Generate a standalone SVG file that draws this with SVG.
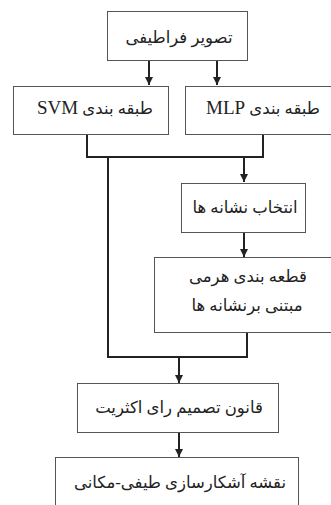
<svg xmlns="http://www.w3.org/2000/svg" width="331" height="505" viewBox="0 0 331 505">
<style>
.box{fill:#fff;stroke:#555;stroke-width:1}
.t{font-family:"Liberation Serif","DejaVu Sans",serif;font-size:16.5px;fill:#222;text-anchor:middle;direction:rtl}
.l{font-size:19px}
.c{fill:none;stroke:#222;stroke-width:2}
</style>
<defs>
<marker id="ah" viewBox="0 0 8 8" refX="8" refY="4" markerWidth="8" markerHeight="8" markerUnits="userSpaceOnUse" orient="auto">
<path d="M0,0 L8,4 L0,8 Z" fill="#222"/>
</marker>
</defs>
<rect width="331" height="505" fill="#fff"/>
<g id="connectors">
<path class="c" d="M149,60 V85" marker-end="url(#ah)"/>
<path class="c" d="M217,60 V85" marker-end="url(#ah)"/>
<path class="c" d="M87,134 V157 H263 V134"/>
<path class="c" d="M244,157 V182" marker-end="url(#ah)"/>
<path class="c" d="M244,232 V257" marker-end="url(#ah)"/>
<path class="c" d="M108,157 V357 H247 V332"/>
<path class="c" d="M179,357 V383" marker-end="url(#ah)"/>
<path class="c" d="M179,432 V457" marker-end="url(#ah)"/>
</g>
<g id="n1"><rect class="box" x="107.5" y="11.5" width="140" height="49"/><text class="t" x="179" y="43">تصویر فراطیفی</text></g>
<g id="n2"><rect class="box" x="13.5" y="86.5" width="155" height="48"/><text class="t" x="95" y="114">طبقه بندی <tspan class="l">SVM</tspan></text></g>
<g id="n3"><rect class="box" x="185.5" y="86.5" width="150" height="48"/><text class="t" x="263" y="114">طبقه بندی <tspan class="l">MLP</tspan></text></g>
<g id="n4"><rect class="box" x="181.5" y="183.5" width="124" height="49"/><text class="t" x="245" y="213">انتخاب نشانه ها</text></g>
<g id="n5"><rect class="box" x="154.5" y="257.5" width="180" height="75"/><text class="t" x="248" y="282">قطعه بندی هرمی</text><text class="t" x="247" y="311">مبتنی برنشانه ها</text></g>
<g id="n6"><rect class="box" x="77.5" y="383.5" width="201" height="49"/><text class="t" x="179" y="413">قانون تصمیم رای اکثریت</text></g>
<g id="n7"><rect class="box" x="55.5" y="457.5" width="243" height="60"/><text class="t" x="180" y="488">نقشه آشکارسازی طیفی-مکانی</text></g>
</svg>
